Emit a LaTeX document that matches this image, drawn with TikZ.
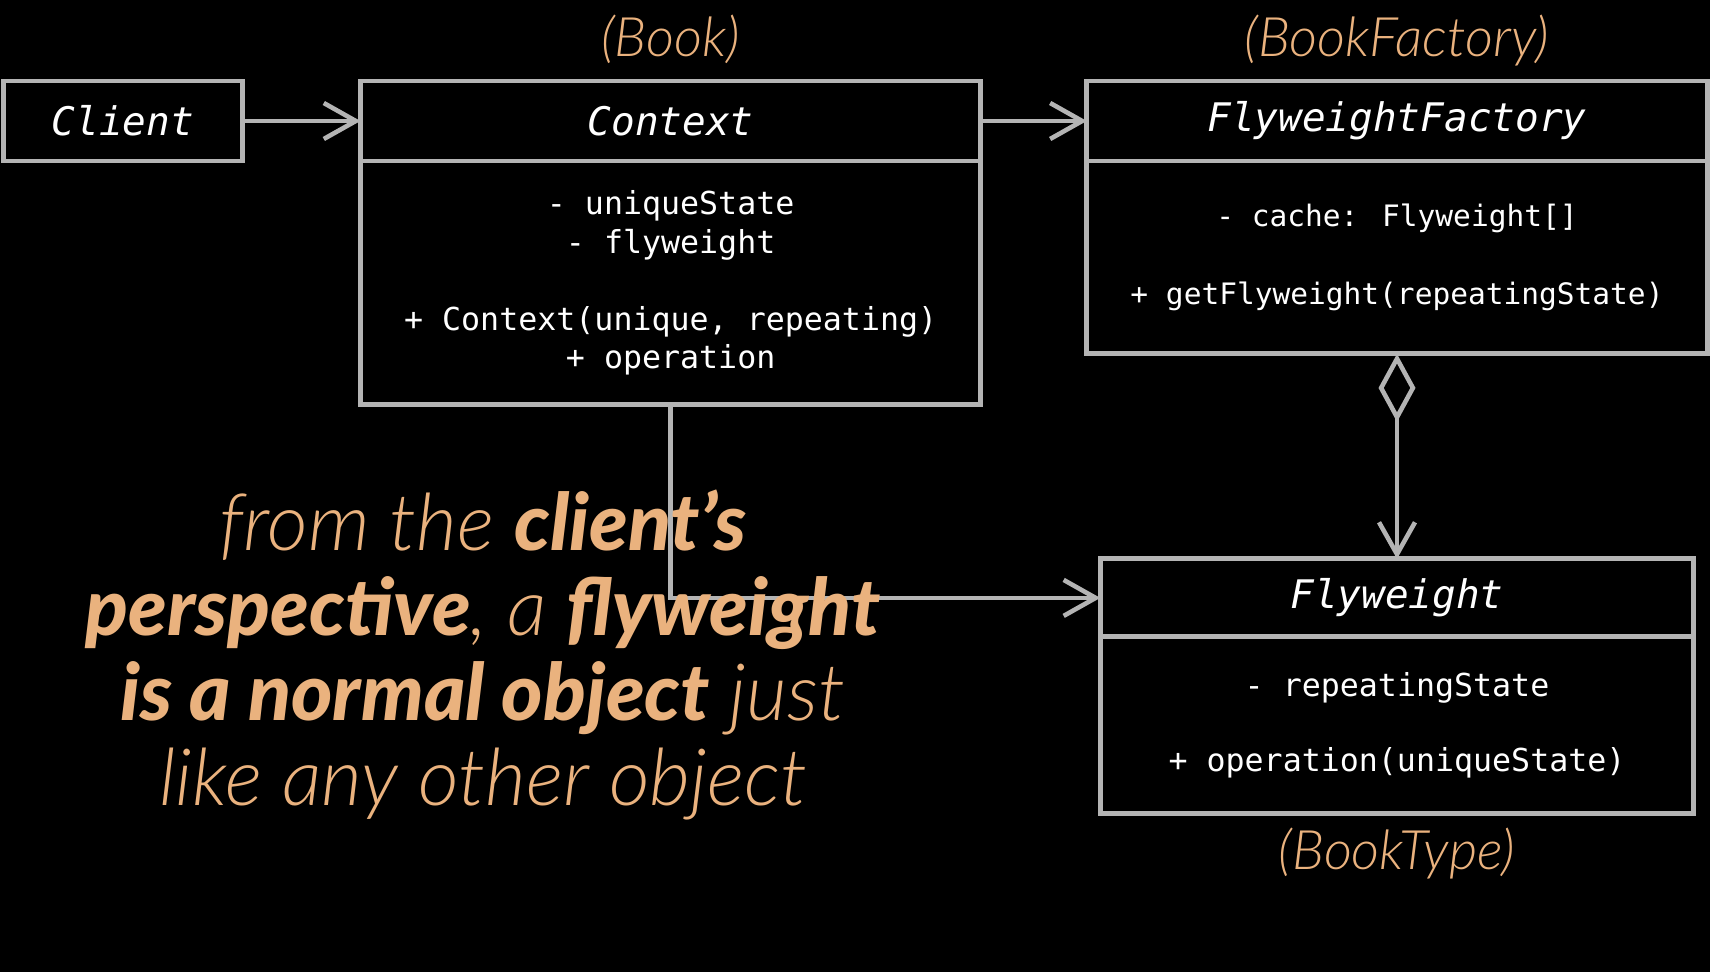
\documentclass[tikz,border=0pt]{standalone}
\usepackage{fontspec}
\usetikzlibrary{positioning,arrows.meta}
\newfontfamily\umlmono{DejaVu Sans Mono}
\newfontfamily\quotefont{Lato}[UprightFont=* Light, ItalicFont=* Light Italic, BoldFont=* Black, BoldItalicFont=* Black Italic]
\definecolor{linegrey}{HTML}{B4B4B4}
\definecolor{booktan}{HTML}{EAB27E}
\tikzset{
  umlhead/.style={draw=linegrey, line width=2.8pt, fill=black, text=white, inner sep=0pt, outer sep=0pt,
    minimum height=1.6cm, font=\umlmono\itshape\fontsize{22.4}{26}\selectfont},
  umlbody/.style={draw=linegrey, line width=2.8pt, fill=black, text=white, inner sep=0pt, outer sep=0pt,
    align=center, font=\umlmono\fontsize{18}{22}\selectfont},
  conn/.style={draw=linegrey, line width=2.6pt, -{Straight Barb[length=0.64cm,width=0.72cm]}},
  booklabel/.style={text=booktan, anchor=base, font=\quotefont\itshape\fontsize{31}{36}\selectfont},
  quote/.style={text=booktan, align=center, font=\quotefont\itshape\fontsize{45}{48.4}\selectfont}
}
\begin{document}
\begin{tikzpicture}[x=0.02cm,y=-0.02cm]
\fill[black] (0,0) rectangle (1710,972);
\node[umlhead, minimum width=4.78cm] (client) at (123,121) {Client};
\node[umlhead, minimum width=12.41cm, right=2.36cm of client] (ctx) {Context};
\node[umlbody, minimum width=12.41cm, minimum height=4.88cm, below=0pt of ctx] (ctxbody)
  {- uniqueState\\- flyweight\\[22pt]+ Context(unique, repeating)\\+ operation};
\node[umlhead, minimum width=12.41cm, right=2.12cm of ctx] (fact) {FlyweightFactory};
\node[umlbody, minimum width=12.41cm, minimum height=3.86cm, below=0pt of fact,
  font=\umlmono\fontsize{16.8}{22}\selectfont] (factbody)
  {- cache: Flyweight[]\\[22pt]+ getFlyweight(repeatingState)};
\node[umlhead, minimum width=11.87cm, minimum height=1.56cm, below=4.1cm of factbody] (fw) {Flyweight};
\node[umlbody, minimum width=11.87cm, minimum height=3.54cm, below=0pt of fw] (fwbody)
  {- repeatingState\\[21pt]+ operation(uniqueState)};
\node[above=0.5cm of ctx.north, booklabel] (booklbl) {(Book)};
\node[above=0.5cm of fact.north, booklabel] (factlbl) {(BookFactory)};
\node[below=1.12cm of fwbody.south, booklabel] (typelbl) {(BookType)};
\draw[conn] (client) -- (ctx);
\draw[conn] (ctx) -- (fact);
\draw[conn, {Diamond[open,length=1.36cm,width=0.74cm]}-{Straight Barb[length=0.64cm,width=0.72cm]}] (factbody.south) -- (fw.north);
\draw[conn] (ctxbody.south) |- (fw.west);
\node[quote] (pov) at (483,655) {from the \textbf{client’s}\\\textbf{perspective}, a \textbf{flyweight}\\\textbf{is a normal object} just\\like any other object};
\end{tikzpicture}
\end{document}
